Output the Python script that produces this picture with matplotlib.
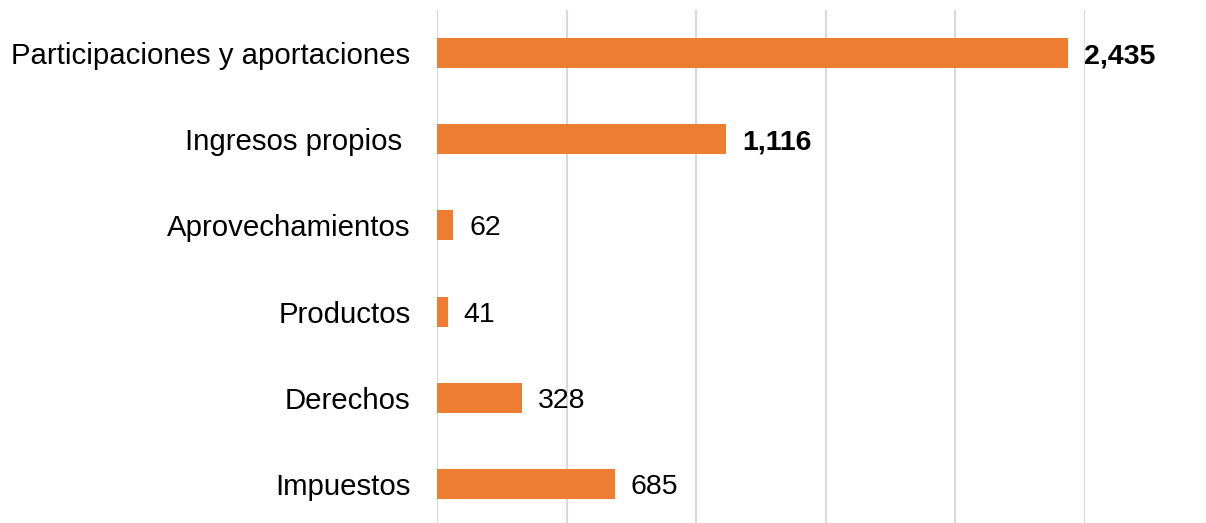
import matplotlib.pyplot as plt
from matplotlib.ticker import MultipleLocator

plt.rcParams['font.family'] = ['Liberation Sans', 'DejaVu Sans']

# bottom to top, as matplotlib draws barh
categories = ['Impuestos', 'Derechos', 'Productos', 'Aprovechamientos',
              'Ingresos propios ', 'Participaciones y aportaciones']
values = [685, 328, 41, 62, 1116, 2435]
bold_labels = [False, False, False, False, True, True]

bar_color = '#ED7D31'
grid_color = '#D9D9D9'

fig = plt.figure(figsize=(12.06, 5.23), dpi=100)
# axes box in pixels: x 437..1085, y 10..527 (from top)
ax = fig.add_axes([437 / 1206, (523 - 527) / 523, (1085 - 437) / 1206, 517 / 523])

ypos = range(len(categories))
ax.barh(ypos, values, height=0.35, color=bar_color, zorder=3)

for y, v, b in zip(ypos, values, bold_labels):
    ax.text(v + 62, y, f'{v:,}', va='center_baseline', ha='left', fontsize=20.5,
            fontweight='bold' if b else 'normal', color='black', zorder=4)

ax.set_xlim(0, 2500)
ax.set_ylim(-0.5, len(categories) - 0.5)
ax.xaxis.set_major_locator(MultipleLocator(500))
ax.grid(axis='x', color=grid_color, linewidth=1.5, zorder=0)
ax.set_yticks(list(ypos))
ax.set_yticklabels(categories, fontsize=21.2)
ax.tick_params(axis='y', length=0, pad=19)
ax.tick_params(axis='x', length=0, labelbottom=False)
for s in ax.spines.values():
    s.set_visible(False)

fig.savefig('out.png', dpi=100)
